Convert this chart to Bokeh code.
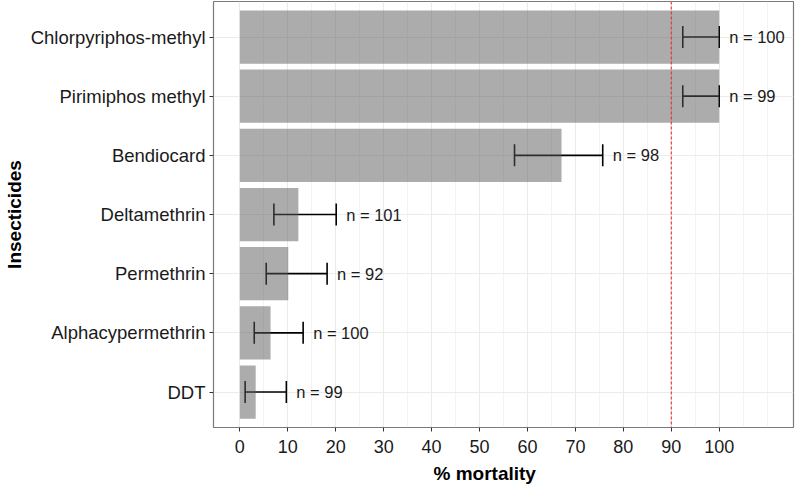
from bokeh.plotting import figure
from bokeh.models import (ColumnDataSource, FactorRange, Range1d, Whisker, TeeHead,
                          Span, Title, FixedTicker)
from bokeh.core.properties import value
from bokeh.embed import file_html
from bokeh.resources import INLINE

# ---- data ----
insecticides = ["Chlorpyriphos-methyl", "Pirimiphos methyl", "Bendiocard",
                "Deltamethrin", "Permethrin", "Alphacypermethrin", "DDT"]
mortality = [100, 100, 67.1, 12.2, 10.1, 6.4, 3.3]
ci_lower = [92.4, 92.4, 57.3, 7.1, 5.5, 3.0, 1.1]
ci_upper = [100, 100, 75.7, 20.1, 18.2, 13.2, 9.7]
n_tested = [100, 99, 98, 101, 92, 100, 99]
x_ticks = list(range(0, 101, 10))
x_minor = list(range(5, 106, 10)) + [110]
threshold = 90

FONT = "Liberation Sans"

src = ColumnDataSource(dict(
    ins=insecticides, mort=mortality, lo=ci_lower, hi=ci_upper,
    lab=[f"n = {n}" for n in n_tested],
))

y_range = FactorRange(factors=insecticides[::-1], range_padding=0.1,
                      range_padding_units="absolute")
x_range = Range1d(-5.5, 115.5)

p = figure(width=795, height=488, y_range=y_range, x_range=x_range,
           output_backend="svg", toolbar_location=None,
           min_border_left=212, min_border_right=2, min_border_top=1,
           min_border_bottom=0)

p.background_fill_color = "white"
p.border_fill_color = "white"
p.outline_line_color = "#7A7A7A"
p.outline_line_width = 1.2

# grid
p.xgrid.ticker = FixedTicker(ticks=x_ticks, minor_ticks=x_minor)
p.xgrid.grid_line_color = "#EBEBEB"
p.xgrid.grid_line_width = 1.1
p.xgrid.minor_grid_line_color = "#EBEBEB"
p.xgrid.minor_grid_line_width = 0.6
p.ygrid.grid_line_color = "#EBEBEB"
p.ygrid.grid_line_width = 1.1

# bars
p.hbar(y="ins", left=0, right="mort", height=0.9, source=src,
       fill_color="#595959", fill_alpha=0.5, line_color=None)

# threshold line
p.add_layout(Span(location=threshold, dimension="height", line_color="#E8312F",
                  line_dash="3 2", line_width=1.1))

# error bars
wh = Whisker(source=src, base="ins", lower="lo", upper="hi", dimension="width",
             line_color="black", line_width=1.6,
             upper_head=TeeHead(size=22, line_color="black", line_width=1.6),
             lower_head=TeeHead(size=22, line_color="black", line_width=1.6))
p.add_layout(wh)

# n labels
p.text(x="hi", y="ins", text="lab", source=src, x_offset=10,
       text_align="left", text_baseline="middle",
       text_font=value(FONT), text_font_size="16.5px", text_color="#1A1A1A")

# axes
p.xaxis.ticker = FixedTicker(ticks=x_ticks)
for ax in (p.xaxis[0], p.yaxis[0]):
    ax.axis_line_color = None
    ax.major_tick_line_color = "#333333"
    ax.major_tick_in = 0
    ax.major_tick_out = 4
    ax.minor_tick_line_color = None
    ax.major_label_text_font = FONT
    ax.major_label_text_color = "#1A1A1A"
    ax.major_label_standoff = 4
p.xaxis.major_label_standoff = 8
p.xaxis.major_label_text_font_size = "18px"
p.yaxis.major_label_text_font_size = "18.5px"

p.yaxis.axis_label = "Insecticides"
p.yaxis.axis_label_text_font = FONT
p.yaxis.axis_label_text_font_size = "19px"
p.yaxis.axis_label_text_font_style = "bold"
p.yaxis.axis_label_text_color = "black"
p.yaxis.axis_label_standoff = 3

p.add_layout(Title(text="% mortality", align="left", offset=220, standoff=10,
                   text_font=FONT, text_font_size="19px", text_font_style="bold",
                   text_color="black"), "below")

open("out.html", "w").write(file_html(p, INLINE))
